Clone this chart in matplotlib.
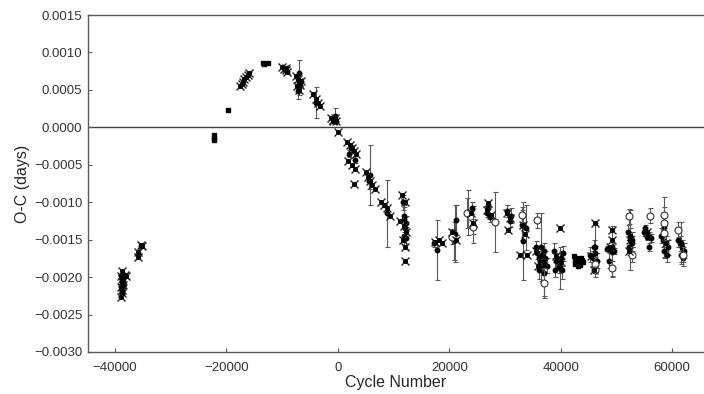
import matplotlib
matplotlib.use("Agg")
import matplotlib.pyplot as plt

plt.rcParams['font.family'] = ['Liberation Sans', 'DejaVu Sans']

# ---- data (cycle number, O-C in days) ----
cross_cycle = [-38800, -38900, -38700, -38800, -38600, -38900, -38700, -38800, -38900, -38200, -38000, -38500,
               -35800, -35900, -35300, -35200,
               -17600, -17300, -17100, -16800, -16500, -16200, -15900,
               -10000, -9700, -9400, -9100, -9300,
               -7500, -7200, -7000, -6800, -6600, -7300, -6900,
               -4500, -4000, -3500, -3200,
               -1200, -900, -600, -300, -800, 100,
               1700, 2100, 2500, 2900, 3200, 1900, 2600, 3000, 2800,
               5000, 5400, 5800, 6200, 6600,
               7800, 8300, 8800, 9400,
               11500, 12000, 11200, 11800, 12200, 11600, 12000, 12100,
               17500, 18200, 18600, 21200, 20500, 23800, 24300,
               27000, 26800, 27400, 30300, 30800, 30600,
               32700, 33900, 33200, 33600,
               35600, 36400, 37000, 35900,
               39800, 39200, 40100,
               46200, 45500, 46000,
               49200, 49200, 48900,
               52500, 52300, 55500, 58800]
cross_oc = [-0.00192, -0.00198, -0.00203, -0.00207, -0.00210, -0.00213, -0.00217, -0.00221, -0.00226, -0.00197, -0.00199, -0.00205,
            -0.00166, -0.00173, -0.00157, -0.00159,
            0.00055, 0.00058, 0.00061, 0.00064, 0.00067, 0.00070, 0.00072,
            0.00080, 0.00078, 0.00076, 0.00074, 0.00079,
            0.00068, 0.00064, 0.00060, 0.00057, 0.00062, 0.00055, 0.00050,
            0.00045, 0.00038, 0.00032, 0.00028,
            0.00013, 0.00010, 0.00012, 0.00009, 0.00008, -0.00006,
            -0.00020, -0.00024, -0.00028, -0.00032, -0.00036, -0.00045, -0.00050, -0.00055, -0.00075,
            -0.00060, -0.00066, -0.00071, -0.00077, -0.00083,
            -0.00100, -0.00104, -0.00108, -0.00118,
            -0.00090, -0.00100, -0.00125, -0.00132, -0.00140, -0.00150, -0.00160, -0.00179,
            -0.00153, -0.00150, -0.00155, -0.00150, -0.00140, -0.00115, -0.00128,
            -0.00101, -0.00110, -0.00117, -0.00115, -0.00121, -0.00137,
            -0.00170, -0.00170, -0.00130, -0.00142,
            -0.00165, -0.00172, -0.00180, -0.00185,
            -0.00135, -0.00172, -0.00180,
            -0.00128, -0.00172, -0.00190,
            -0.00137, -0.00150, -0.00160,
            -0.00150, -0.00165, -0.00140, -0.00155]

dot_cycle = [-38800, -38600, -38700, -38500, -38800, -35800, -35300,
             -7000, -6900, -7100, -3900, -600,
             2300, 2000, 3000, 5700, 5500, 8800,
             11700, 11800, 12100, 11900, 12300, 11900, 12300,
             17800, 17300, 21000, 21200, 20800,
             23300, 24000, 24300,
             27000, 27300, 26700, 30300, 30800, 31000,
             33000, 33300, 33800,
             35500, 35800, 36000, 36300, 36600, 36900, 37200, 37500, 36100, 36800, 36500, 37000,
             38800, 39200, 39600, 40000, 40400, 39000, 40200, 39900,
             45200, 45700, 46200, 46500, 45900, 46200,
             48300, 48700, 49100, 49500, 49200, 48700,
             52000, 52400, 52700, 52200, 52800, 52500,
             55000, 55400, 55800, 56200, 55200, 55800,
             58000, 58400, 58800, 59200, 58600, 59000, 58500,
             61000, 61400, 61800, 62200, 61600, 62000, 61500]
dot_oc = [-0.00200, -0.00208, -0.00215, -0.00212, -0.00220, -0.00169, -0.00158,
          0.00072, 0.00058, 0.00048, 0.00033, 0.00015,
          -0.00028, -0.00035, -0.00043, -0.00064, -0.00072, -0.00115,
          -0.00100, -0.00118, -0.00135, -0.00145, -0.00128, -0.00122, -0.00148,
          -0.00164, -0.00155, -0.00142, -0.00124, -0.00152,
          -0.00114, -0.00108, -0.00130,
          -0.00108, -0.00120, -0.00115, -0.00112, -0.00125, -0.00118,
          -0.00130, -0.00152, -0.00134,
          -0.00160, -0.00168, -0.00175, -0.00180, -0.00170, -0.00165, -0.00175, -0.00185, -0.00190, -0.00185, -0.00160, -0.00195,
          -0.00165, -0.00178, -0.00185, -0.00175, -0.00168, -0.00190, -0.00190, -0.00188,
          -0.00170, -0.00175, -0.00168, -0.00178, -0.00160, -0.00160,
          -0.00162, -0.00163, -0.00160, -0.00165, -0.00166, -0.00178,
          -0.00140, -0.00145, -0.00155, -0.00160, -0.00150, -0.00150,
          -0.00140, -0.00146, -0.00145, -0.00148, -0.00135, -0.00160,
          -0.00145, -0.00150, -0.00155, -0.00160, -0.00165, -0.00170, -0.00133,
          -0.00150, -0.00155, -0.00160, -0.00165, -0.00170, -0.00175, -0.00154]
dot_err = [0.00004, 0.00004, 0.00004, 0.00003, 0.00004, 0.00003, 0.00003,
           0.00018, 0.00015, 0.00010, 0.00021, 0.00011,
           0.00005, 0.00005, 0.00005, 0.00040, 0.00010, 0.00045,
           0.00010, 0.00012, 0.00015, 0.00012, 0.00010, 0.00018, 0.00015,
           0.00040, 0.00005, 0.00038, 0.00020, 0.00025,
           0.00030, 0.00008, 0.00025,
           0.00006, 0.00006, 0.00005, 0.00008, 0.00008, 0.00010,
           0.00020, 0.00052, 0.00030,
           0.00008, 0.00008, 0.00010, 0.00010, 0.00010, 0.00010, 0.00010, 0.00010, 0.00012, 0.00012, 0.00045, 0.00030,
           0.00010, 0.00010, 0.00010, 0.00010, 0.00010, 0.00010, 0.00012, 0.00028,
           0.00010, 0.00010, 0.00010, 0.00010, 0.00010, 0.00032,
           0.00003, 0.00003, 0.00003, 0.00004, 0.00034, 0.00010,
           0.00010, 0.00010, 0.00010, 0.00010, 0.00010, 0.00040,
           0.00005, 0.00005, 0.00005, 0.00005, 0.00005, 0.00005,
           0.00010, 0.00010, 0.00010, 0.00010, 0.00010, 0.00010, 0.00040,
           0.00010, 0.00010, 0.00010, 0.00010, 0.00010, 0.00010, 0.00028]

open_cycle = [20400, 23100, 24200, 28200, 33100, 35800, 36900, 46200, 46200, 49200,
              52200, 52800, 56000, 58600, 58600, 58600, 61100, 62000]
open_oc = [-0.00146, -0.00115, -0.00133, -0.00126, -0.00117, -0.00124, -0.00208, -0.00183, -0.00190, -0.00188,
           -0.00119, -0.00170, -0.00118, -0.00117, -0.00128, -0.00141, -0.00137, -0.00170]
open_err = [0.00010, 0.00020, 0.00010, 0.00040, 0.00010, 0.00010, 0.00020, 0.00010, 0.00010, 0.00010,
            0.00010, 0.00010, 0.00010, 0.00010, 0.00010, 0.00010, 0.00010, 0.00010]

sq_cycle = [-22200, -22200, -22200, -19700, -13500, -13300, -12500,
            42400, 42800, 43200, 43600, 43900, 42600, 43000, 43400, 43800, 42500]
sq_oc = [-0.00010, -0.00014, -0.00017, 0.00023, 0.00086, 0.00084, 0.00086,
         -0.00172, -0.00175, -0.00178, -0.00174, -0.00180, -0.00182, -0.00185, -0.00184, -0.00177, -0.00178]

xticks = [-40000, -20000, 0, 20000, 40000, 60000]
yticks = [0.0015, 0.0010, 0.0005, 0.0000, -0.0005, -0.0010, -0.0015, -0.0020, -0.0025, -0.0030]

# ---- figure ----
fig = plt.figure(figsize=(7.04, 3.94), dpi=100)
ax = fig.add_axes([88/704, 1 - 352/394, 1 - 88/704, (352 - 15)/394])

ecol = '0.35'
ax.axhline(0, color='0.25', lw=1.0, zorder=1)
ax.errorbar(dot_cycle, dot_oc, yerr=dot_err, fmt='o', ms=3.2, color='black',
            ecolor=ecol, elinewidth=0.8, capsize=1.8, capthick=0.8, zorder=3)
ax.errorbar(open_cycle, open_oc, yerr=open_err, fmt='o', ms=5, mfc='white', mec='0.2', mew=0.8,
            ecolor=ecol, elinewidth=0.8, capsize=1.8, capthick=0.8, zorder=4)
ax.plot(cross_cycle, cross_oc, 'x', ms=5.5, mew=1.0, color='0.15', zorder=5, linestyle='none')
ax.plot(cross_cycle, cross_oc, 'o', ms=2.6, color='black', zorder=5, linestyle='none')
ax.plot(sq_cycle, sq_oc, 's', ms=3.2, color='black', zorder=5, linestyle='none')

ax.set_xlim(-44850, 65700)
ax.set_ylim(-0.0030, 0.0015)
ax.set_xticks(xticks)
ax.set_yticks(yticks)
ax.set_yticklabels([f"{v:.4f}".replace('-', '\u2212') for v in yticks])
ax.set_xticklabels([f"{v}".replace('-', '\u2212') for v in xticks])

for s in ['left', 'bottom', 'top']:
    ax.spines[s].set_color('0.35')
    ax.spines[s].set_linewidth(1.0)
ax.spines['right'].set_visible(False)

ax.tick_params(direction='in', length=3, width=0.8, color='0.35', labelsize=9.5,
               labelcolor='0.2', pad=4)
ax.tick_params(axis='x', pad=7)
ax.set_xlabel('Cycle Number', fontsize=11.5, color='0.15', labelpad=1)
ax.set_ylabel('O-C (days)', fontsize=11.5, color='0.15', labelpad=3)

fig.savefig('out.png', dpi=100)
